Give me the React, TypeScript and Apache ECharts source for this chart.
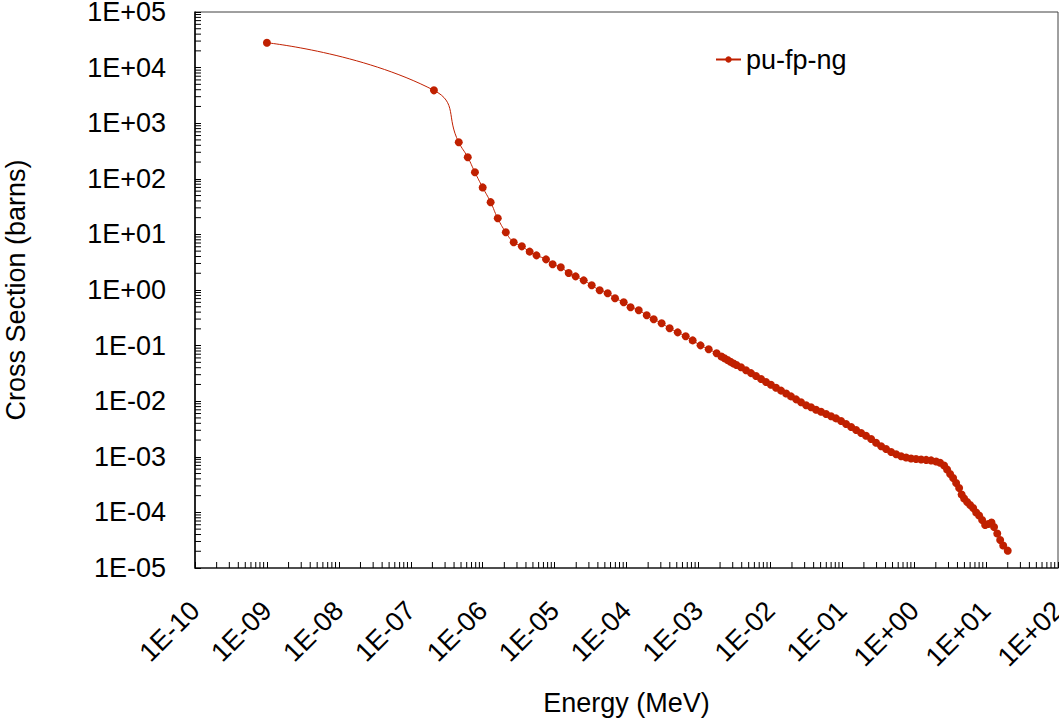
import React, { useEffect, useRef } from "react";
import * as echarts from "echarts";

const SERIES_NAME = "pu-fp-ng";
const X_TITLE = "Energy (MeV)";
const Y_TITLE = "Cross Section (barns)";

// Low-energy part (MeV, barns)
const energyLow = [1e-9, 2.1e-7, 4.65e-7, 6.2e-7, 7.8e-7, 1.0e-6, 1.29e-6, 1.62e-6, 2.1e-6, 2.7e-6, 3.5e-6, 4.5e-6, 5.6e-6, 7.6e-6];
const sigmaLow = [2.8e4, 3.9e3, 453, 244, 131, 70, 38, 19.5, 10.9, 7.2, 6.1, 4.9, 4.2, 3.56];

// Intermediate part
const energyMid = [
  9.4e-6, 1.22e-5, 1.57e-5, 1.96e-5, 2.54e-5, 3.28e-5, 4.24e-5, 5.47e-5, 6.92e-5, 9.14e-5,
  1.14e-4, 1.48e-4, 1.91e-4, 2.39e-4, 3.08e-4, 3.98e-4, 5.15e-4, 6.65e-4, 8.32e-4,
  1.07e-3, 1.39e-3, 1.79e-3, 2.09e-3, 2.3e-3, 2.54e-3, 2.79e-3, 3.08e-3, 3.38e-3,
];
const sigmaMid = [
  2.9, 2.56, 2.02, 1.76, 1.49, 1.22, 0.99, 0.873, 0.71, 0.601,
  0.489, 0.432, 0.351, 0.297, 0.252, 0.205, 0.173, 0.147, 0.124,
  0.101, 0.0858, 0.0728, 0.0637, 0.0593, 0.0551, 0.0512, 0.0476, 0.0448,
];

// High-energy part
const energyHigh = [
  3.91e-3, 4.59e-3, 5.39e-3, 6.32e-3, 7.43e-3, 8.71e-3,
  1.02e-2, 1.2e-2, 1.41e-2, 1.66e-2, 1.94e-2, 2.28e-2, 2.67e-2, 3.14e-2, 3.68e-2, 4.32e-2, 5.07e-2, 5.96e-2, 6.99e-2, 8.2e-2, 9.63e-2,
  0.113, 0.133, 0.156, 0.183, 0.214, 0.252, 0.295, 0.347, 0.407, 0.478, 0.561, 0.658, 0.773, 0.906,
  1.06, 1.25, 1.47, 1.72, 2.02, 2.29, 2.61, 2.87, 3.16, 3.48, 3.83, 4.22, 4.57, 4.95, 5.45, 6.0, 6.61, 7.28, 8.0, 8.81, 9.7,
  10.7, 11.9, 12.9, 14.3, 15.7, 17.3, 20,
];
const sigmaHigh = [
  0.0407, 0.0361, 0.032, 0.0284, 0.0251, 0.0222,
  0.0197, 0.0175, 0.0155, 0.0138, 0.0122, 0.0108, 0.00959, 0.00843, 0.0078, 0.00703, 0.00644, 0.00589, 0.00537, 0.00491, 0.00441,
  0.00389, 0.00344, 0.00303, 0.00268, 0.00239, 0.00209, 0.00179, 0.00155, 0.00138, 0.00122, 0.00111, 0.00102, 0.00097, 0.000935,
  0.000916, 0.000897, 0.000879, 0.000861, 0.000822, 0.000783, 0.000698, 0.000591, 0.000491, 0.000416, 0.000338, 0.000275, 0.00021, 0.000178, 0.000154, 0.000136, 0.00012, 9.95e-5, 8.79e-5, 7.29e-5, 5.93e-5,
  6.18e-5, 6.58e-5, 5.46e-5, 4.17e-5, 3.18e-5, 2.54e-5, 2.05e-5,
];

const X_MIN = 1e-10;
const X_MAX = 1e2;
const Y_MIN = 1e-5;
const Y_MAX = 1e5;

const FONT = "'Liberation Sans', Arial, Helvetica, sans-serif";
const COLOR = "#C02000";

function sci(v: number): string {
  const e = Math.round(Math.log10(v));
  const a = Math.abs(e);
  return "1E" + (e < 0 ? "-" : "+") + (a < 10 ? "0" : "") + a;
}

export default function App() {
  const ref = useRef<HTMLDivElement>(null);
  useEffect(() => {
    if (!ref.current) return;
    const chart = echarts.init(ref.current, null, { renderer: "svg" });
    const energy = [...energyLow, ...energyMid, ...energyHigh];
    const sigma = [...sigmaLow, ...sigmaMid, ...sigmaHigh];
    const data = energy.map((e, i) => [e, sigma[i]]);

    const minorTicks: number[][] = [];
    for (let e = Math.round(Math.log10(X_MIN)); e < Math.round(Math.log10(X_MAX)); e++) {
      for (let m = 2; m <= 9; m++) minorTicks.push([m * Math.pow(10, e), Y_MIN, 0]);
    }
    for (let e = Math.round(Math.log10(Y_MIN)); e < Math.round(Math.log10(Y_MAX)); e++) {
      for (let m = 2; m <= 9; m++) minorTicks.push([X_MIN, m * Math.pow(10, e), 1]);
    }

    chart.setOption({
      animation: false,
      backgroundColor: "#fff",
      textStyle: { fontFamily: FONT },
      grid: {
        left: 195,
        right: 1,
        top: 12,
        bottom: 155,
        containLabel: false,
        outerBoundsMode: "none",
        show: true,
        borderColor: "#404040",
        borderWidth: 1,
      },
      legend: {
        data: [SERIES_NAME],
        left: 715,
        top: 46,
        padding: 0,
        itemWidth: 25,
        itemHeight: 8,
        itemGap: 10,
        textStyle: { fontFamily: FONT, fontSize: 27, color: "#000" },
      },
      xAxis: {
        type: "log",
        logBase: 10,
        min: X_MIN,
        max: X_MAX,
        interval: 1,
        splitNumber: 12,
        name: X_TITLE,
        nameLocation: "middle",
        nameGap: 121,
        nameTextStyle: { fontFamily: FONT, fontSize: 27, color: "#000" },
        axisLine: { show: true, lineStyle: { color: "#333", width: 1.5 } },
        axisTick: { show: true, inside: true, length: 6, interval: 0, lineStyle: { color: "#000", width: 1 } },
        splitLine: { show: false },
        axisLabel: {
          formatter: (v: number) => sci(v),
          rotate: 45,
          margin: 38,
          interval: 0,
          showMinLabel: true,
          showMaxLabel: true,
          hideOverlap: false,
          fontFamily: FONT,
          fontSize: 27,
          color: "#000",
        },
      },
      yAxis: {
        type: "log",
        logBase: 10,
        min: Y_MIN,
        max: Y_MAX,
        interval: 1,
        splitNumber: 10,
        name: Y_TITLE,
        nameLocation: "middle",
        nameGap: 166,
        nameRotate: 90,
        nameTextStyle: { fontFamily: FONT, fontSize: 27, color: "#000" },
        axisLine: { show: true, lineStyle: { color: "#000", width: 1.5 } },
        axisTick: { show: true, inside: true, length: 6, interval: 0, lineStyle: { color: "#000", width: 1 } },
        splitLine: { show: false },
        axisLabel: {
          formatter: (v: number) => sci(v),
          margin: 29,
          interval: 0,
          showMinLabel: true,
          showMaxLabel: true,
          hideOverlap: false,
          fontFamily: FONT,
          fontSize: 27,
          lineHeight: 22,
          color: "#000",
        },
      },
      series: [
        {
          type: "custom",
          name: "minorTicks",
          silent: true,
          clip: false,
          z: 1,
          data: minorTicks,
          renderItem: (params: any, api: any) => {
            const p = api.coord([api.value(0), api.value(1)]);
            const dir = api.value(2);
            const shape =
              dir === 0
                ? { x1: p[0], y1: p[1], x2: p[0], y2: p[1] - 6 }
                : { x1: p[0], y1: p[1], x2: p[0] + 6, y2: p[1] };
            return { type: "line", shape, style: { stroke: "#000", lineWidth: 1 } };
          },
        },
        {
          type: "line",
          name: SERIES_NAME,
          data,
          smooth: 0.5,
          showAllSymbol: true,
          symbol: "circle",
          symbolSize: 8,
          z: 3,
          lineStyle: { color: COLOR, width: 1 },
          itemStyle: { color: COLOR },
        },
      ],
    });
    return () => chart.dispose();
  }, []);
  return <div ref={ref} style={{ position: "fixed", left: 0, top: 0, width: 1059, height: 723 }} />;
}
